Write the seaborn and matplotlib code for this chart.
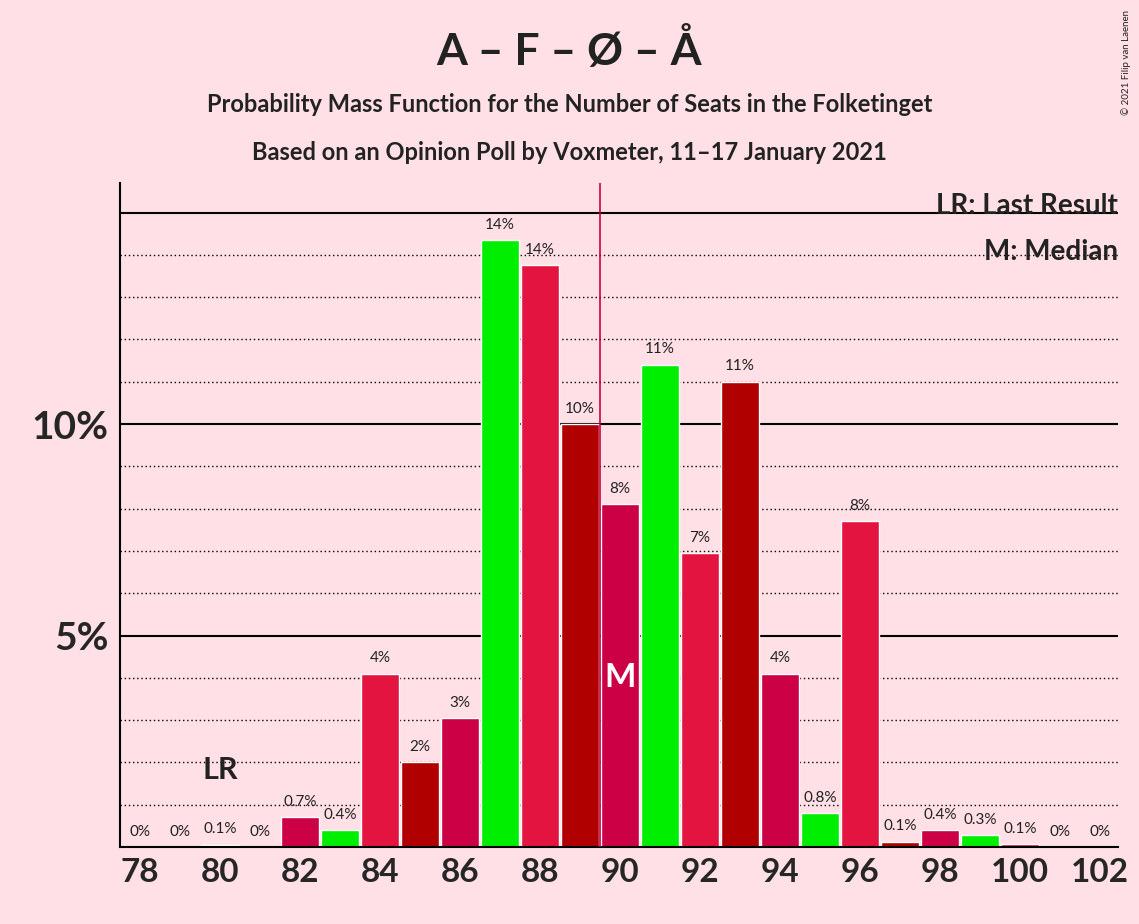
import pandas as pd
import numpy as np
import matplotlib.pyplot as plt
import seaborn as sns

seats = list(range(78, 103))
probs = [0, 0, 0.05, 0, 0.7, 0.4, 4.1, 2.0, 3.05, 14.35, 13.75, 10.0, 8.1,
         11.4, 6.95, 11.0, 4.1, 0.8, 7.7, 0.12, 0.4, 0.28, 0.07, 0, 0]
labels = ['0%', '0%', '0.1%', '0%', '0.7%', '0.4%', '4%', '2%', '3%', '14%', '14%',
          '10%', '8%', '11%', '7%', '11%', '4%', '0.8%', '8%', '0.1%', '0.4%',
          '0.3%', '0.1%', '0%', '0%']
last_result = 80
median = 90

bg = '#FFE0E6'
cols = ['#00EE00', '#E3143F', '#B00000', '#CC0044']
df = pd.DataFrame({'seat': seats, 'p': probs})
df['grp'] = [str((s - 83) % 4) for s in seats]
pal = {str(i): c for i, c in enumerate(cols)}

sns.set_style('white')
plt.rcParams['font.family'] = ['Lato', 'DejaVu Sans']
fig = plt.figure(figsize=(11.39, 9.24), dpi=100, facecolor=bg)
ax = fig.add_axes([120/1139, 1-847/924, 998/1139, 664/924], facecolor=bg)

for v in np.arange(1, 16):
    if v % 5 == 0:
        ax.axhline(v, color='black', lw=1.5, zorder=0)
    else:
        ax.axhline(v, color='black', lw=1, ls=(0, (1, 2)), zorder=0)

sns.barplot(data=df, x='seat', y='p', hue='grp', palette=pal, native_scale=True,
            width=0.95, legend=False, ax=ax, zorder=2, saturation=1)

for s, p, l in zip(seats, probs, labels):
    ax.text(s, p + 0.2, l, ha='center', va='bottom', fontsize=11, color='#222222',
            zorder=3)

ax.axvline(89.5, color='#CC0044', lw=1.2, zorder=3)
ax.text(last_result, 1.5, 'LR', ha='center', va='bottom', fontsize=22,
        fontweight='bold', color='#222222')
ax.text(median, 4, 'M', ha='center', va='center', fontsize=24,
        fontweight='bold', color='white', zorder=4)

ax.set_xlim(77.5, 102.45)
ax.set_ylim(0, 15.7)
ax.set_xticks(range(78, 103, 2))
ax.set_xticklabels([str(s) for s in range(78, 103, 2)], fontsize=24, fontweight='bold')
ax.set_yticks([5, 10])
ax.set_yticklabels(['5%', '10%'], fontsize=28, fontweight='bold')
ax.tick_params(axis='both', length=0, pad=8)
ax.set_xlabel('')
ax.set_ylabel('')
for sp in ['top', 'right']:
    ax.spines[sp].set_visible(False)
ax.spines['left'].set_color('black')
ax.spines['bottom'].set_color('black')
ax.spines['left'].set_linewidth(1.5)
ax.spines['bottom'].set_linewidth(1.5)

ax.text(1.0, 0.985, 'LR: Last Result', transform=ax.transAxes, ha='right', va='top',
        fontsize=20, fontweight='bold', color='#222222')
ax.text(1.0, 0.915, 'M: Median', transform=ax.transAxes, ha='right', va='top',
        fontsize=20, fontweight='bold', color='#222222')

fig.text(0.5, 1-50/924, 'A – F – Ø – Å', ha='center', va='center', fontsize=32,
         fontweight='bold', color='#222222')
fig.text(0.5, 1-105/924, 'Probability Mass Function for the Number of Seats in the Folketinget',
         ha='center', va='center', fontsize=17, fontweight='bold', color='#222222')
fig.text(0.5, 1-153/924, 'Based on an Opinion Poll by Voxmeter, 11–17 January 2021',
         ha='center', va='center', fontsize=17, fontweight='bold', color='#222222')
fig.text(1-8/1139, 1-10/924, '© 2021 Filip van Laenen', rotation=90, ha='right', va='top',
         fontsize=7, color='#222222')

fig.savefig('out.png', dpi=100, facecolor=bg)
